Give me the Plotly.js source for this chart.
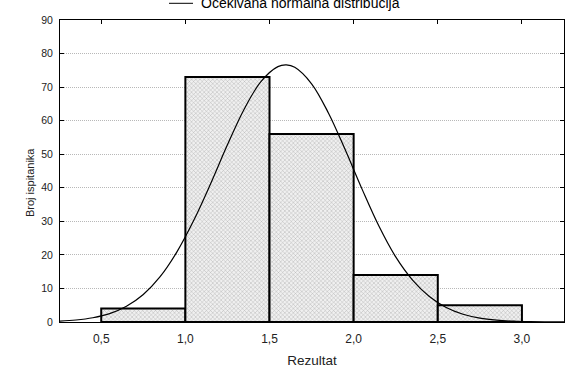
<!DOCTYPE html>
<html>
<head>
<meta charset="utf-8">
<script src="https://cdn.plot.ly/plotly-3.0.1.min.js"></script>
<style>html,body{margin:0;padding:0;background:#fff;}#chart{width:566px;height:370px;}</style>
</head>
<body>
<div id="chart"></div>
<script>
// Histogram bins (centers) and counts
const binCenters = [0.75, 1.25, 1.75, 2.25, 2.75];
const binCounts = [4, 73, 56, 14, 5];
const binWidth = 0.5;

// Expected normal distribution curve (every 0.1)
const curveX = [0.25, 0.35, 0.45, 0.55, 0.65, 0.75, 0.85, 0.95, 1.05, 1.15, 1.25, 1.35, 1.45, 1.55, 1.60, 1.65, 1.75, 1.85, 1.95, 2.05, 2.15, 2.25, 2.35, 2.45, 2.55, 2.65, 2.75, 2.85, 2.95, 3.05, 3.15, 3.25];
const curveY = [0.27, 0.6, 1.27, 2.5, 4.7, 8.2, 13.5, 20.9, 30.3, 41.2, 52.8, 63.5, 71.7, 76.1, 76.6, 75.9, 71.0, 62.3, 51.3, 39.6, 28.6, 19.4, 12.5, 7.6, 4.3, 2.3, 1.15, 0.55, 0.25, 0.1, 0.04, 0.01];

// Tick labels
const xTickVals = [0.5, 1.0, 1.5, 2.0, 2.5, 3.0];
const xTickText = ["0,5", "1,0", "1,5", "2,0", "2,5", "3,0"];
const yTickVals = [0, 10, 20, 30, 40, 50, 60, 70, 80, 90];

const legendText = "Očekivana normalna distribucija";
const xTitle = "Rezultat";
const yTitle = "Broj ispitanika";

const bars = {
  type: 'bar',
  x: binCenters,
  y: binCounts,
  width: binCounts.map(() => binWidth),
  marker: {
    color: '#e6e6e6',
    line: {color: '#000', width: 2},
    pattern: {shape: 'x', fgcolor: '#a8a8a8', bgcolor: '#f0f0f0', size: 3, solidity: 0.25}
  },
  showlegend: false,
  hoverinfo: 'skip'
};

const curve = {
  type: 'scatter',
  mode: 'lines',
  x: curveX,
  y: curveY,
  line: {color: '#000', width: 1.2, shape: 'spline', smoothing: 1.0},
  showlegend: false,
  hoverinfo: 'skip'
};

const font = "'Liberation Sans', Arial, sans-serif";

const layout = {
  width: 566,
  height: 370,
  margin: {l: 60, r: 2, t: 20, b: 48},
  paper_bgcolor: '#fff',
  plot_bgcolor: '#fff',
  bargap: 0,
  font: {family: font, color: '#000'},
  xaxis: {
    range: [0.255, 3.25],
    tickvals: xTickVals,
    ticktext: xTickText,
    ticks: 'inside',
    ticklen: 4,
    tickcolor: '#000',
    showline: true,
    linecolor: '#000',
    linewidth: 1,
    mirror: 'ticks',
    showgrid: false,
    zeroline: false,
    tickfont: {size: 12, family: font, color: '#222'},
    ticklabelstandoff: 6,
    title: {text: xTitle, font: {size: 13.5, family: font, color: '#222'}, standoff: 10},
    automargin: false
  },
  yaxis: {
    range: [0, 90],
    tickvals: yTickVals,
    ticks: 'inside',
    ticklen: 4,
    tickcolor: '#000',
    showline: true,
    linecolor: '#000',
    linewidth: 1,
    mirror: 'ticks',
    showgrid: true,
    gridcolor: '#b8b8b8',
    griddash: '1px,1px',
    gridwidth: 1,
    zeroline: false,
    tickfont: {size: 10.5, family: font, color: '#222'},
    ticklabelstandoff: 4,
    automargin: false
  },
  shapes: [
    {type: 'line', xref: 'paper', yref: 'paper', x0: (169-60)/504, x1: (193-60)/504, y0: (322-3.3)/302, y1: (322-3.3)/302, line: {color: '#000', width: 1}}
  ],
  annotations: [
    {text: legendText, xref: 'paper', yref: 'paper', x: (199-60)/504, y: (322-3)/302, xanchor: 'left', yanchor: 'middle', showarrow: false, font: {size: 14, family: font, color: '#000'}},
    {text: yTitle, xref: 'paper', yref: 'paper', x: (30-60)/504, y: (322-183)/302, xanchor: 'center', yanchor: 'middle', textangle: -90, showarrow: false, font: {size: 11, family: font, color: '#222'}}
  ]
};

Plotly.newPlot('chart', [bars, curve], layout, {displayModeBar: false, staticPlot: true});
</script>
</body>
</html>
